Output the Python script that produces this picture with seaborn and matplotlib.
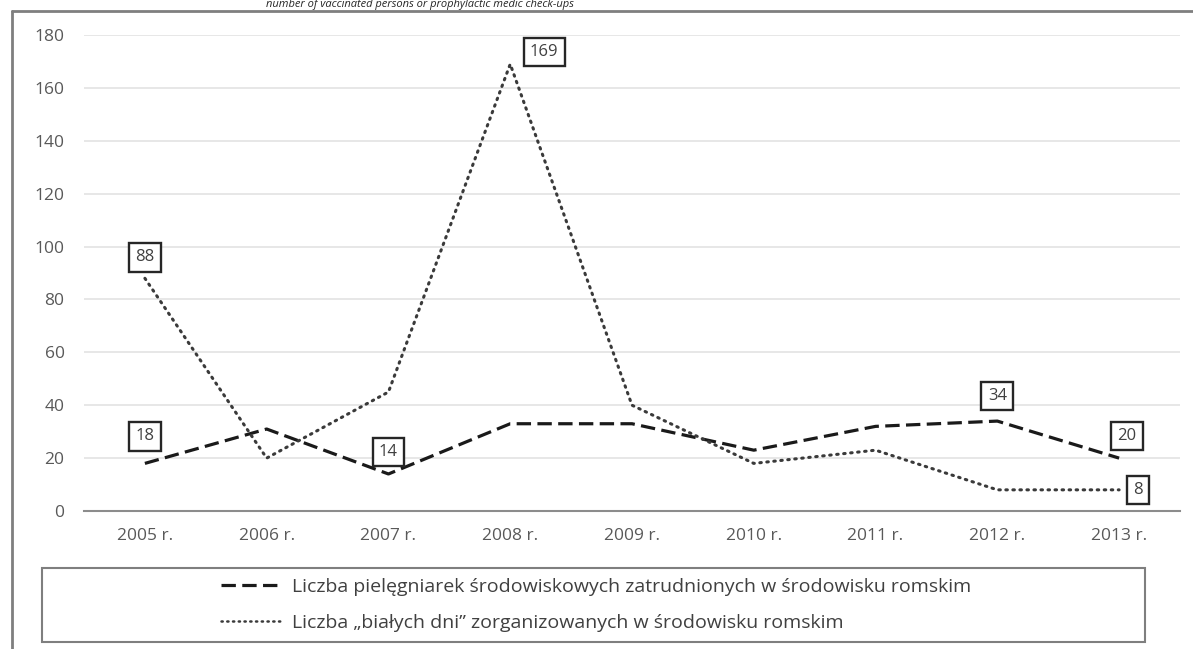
import matplotlib.pyplot as plt
import seaborn as sns
import numpy as np
import pandas as pd
from matplotlib.patches import Rectangle
from matplotlib.lines import Line2D

years = ['2005 r.', '2006 r.', '2007 r.', '2008 r.', '2009 r.',
         '2010 r.', '2011 r.', '2012 r.', '2013 r.']
nurses = [18, 31, 14, 33, 33, 23, 32, 34, 20]
white_days = [88, 20, 45, 169, 40, 18, 23, 8, 8]
nurses_name = 'Liczba pielęgniarek środowiskowych zatrudnionych w środowisku romskim'
days_name = 'Liczba \u201ebiałych dni\u201d zorganizowanych w środowisku romskim'
# which points get a value box
nurses_labelled = [0, 2, 7, 8]
days_labelled = [0, 3, 8]
y_ticks = [0, 20, 40, 60, 80, 100, 120, 140, 160, 180]
top_text = 'number of vaccinated persons or prophylactic medic check-ups'

sns.set_style('white')
plt.rcParams['font.family'] = ['Open Sans', 'DejaVu Sans']

df = pd.DataFrame({'pos': np.arange(len(years)), 'nurses': nurses, 'days': white_days})

dash_style = (0, (4.5, 2.0))
dot_style = (0, (0.5, 1.8))

fig = plt.figure(figsize=(11.93, 6.49), dpi=100)
ax = fig.add_axes([84 / 1193, 1 - 511 / 649, (1180 - 84) / 1193, (511 - 35) / 649])

sns.lineplot(data=df, x='pos', y='nurses', ax=ax, color='#1a1a1a', lw=2.3,
             linestyle=dash_style, label=nurses_name)
sns.lineplot(data=df, x='pos', y='days', ax=ax, color='#3a3a3a', lw=2.2,
             linestyle=dot_style, dash_capstyle='round', label=days_name)

ax.set_xlim(-0.5, len(years) - 0.5)
ax.set_ylim(0, 180)
ax.set_yticks(y_ticks)
ax.set_xticks(df['pos'])
ax.set_xticklabels(years)
ax.set_xlabel('')
ax.set_ylabel('')
ax.grid(axis='y', color='#e3e3e3', lw=1.2)
ax.set_axisbelow(True)
for s in ['left', 'right', 'top']:
    ax.spines[s].set_visible(False)
ax.spines['bottom'].set_color('#8c8c8c')
ax.spines['bottom'].set_linewidth(1.5)
ax.tick_params(axis='both', length=0, labelsize=12.5, labelcolor='#595959')
ax.tick_params(axis='y', pad=14)
ax.tick_params(axis='x', pad=12)
ax.legend_.remove()

box = dict(boxstyle='square,pad=0.38', fc='white', ec='#262626', lw=1.7)
offs_n = {0: (0, 27), 2: (0, 22), 7: (0, 25), 8: (8, 22)}
offs_d = {0: (0, 21), 3: (34, 12), 8: (19, 0)}
for i in nurses_labelled:
    ax.annotate(str(nurses[i]), (i, nurses[i]), xytext=offs_n[i], textcoords='offset pixels',
                ha='center', va='center', fontsize=12, color='#404040', bbox=box)
for i in days_labelled:
    ax.annotate(str(white_days[i]), (i, white_days[i]), xytext=offs_d[i], textcoords='offset pixels',
                ha='center', va='center', fontsize=12, color='#404040', bbox=box)

# legend box under the chart
fig.patches.append(Rectangle((42 / 1193, 1 - 642 / 649), (1145 - 42) / 1193, (642 - 568) / 649,
                             transform=fig.transFigure, fill=False, ec='#7f7f7f', lw=1.5))
handles = [Line2D([], [], color='#1a1a1a', lw=2.3, linestyle=dash_style),
           Line2D([], [], color='#3a3a3a', lw=1.8, linestyle=dot_style, dash_capstyle='round')]
fig.legend(handles, [nurses_name, days_name], loc='center', bbox_to_anchor=(596 / 1193, 1 - 605 / 649),
           frameon=False, fontsize=14, handlelength=3.2, handletextpad=0.45, labelspacing=0.9,
           labelcolor='#404040', borderpad=0)

# outer frame (only top and left edges visible)
fig.add_artist(Line2D([12 / 1193, 1], [1 - 11 / 649, 1 - 11 / 649], transform=fig.transFigure,
                      color='#7f7f7f', lw=2))
fig.add_artist(Line2D([12 / 1193, 12 / 1193], [0, 1 - 11 / 649], transform=fig.transFigure,
                      color='#7f7f7f', lw=2))
fig.text(420 / 1193, 1 - 10 / 649, top_text, ha='center', va='bottom', fontsize=8,
         style='italic', color='#262626')

fig.savefig('out.png', dpi=100)
